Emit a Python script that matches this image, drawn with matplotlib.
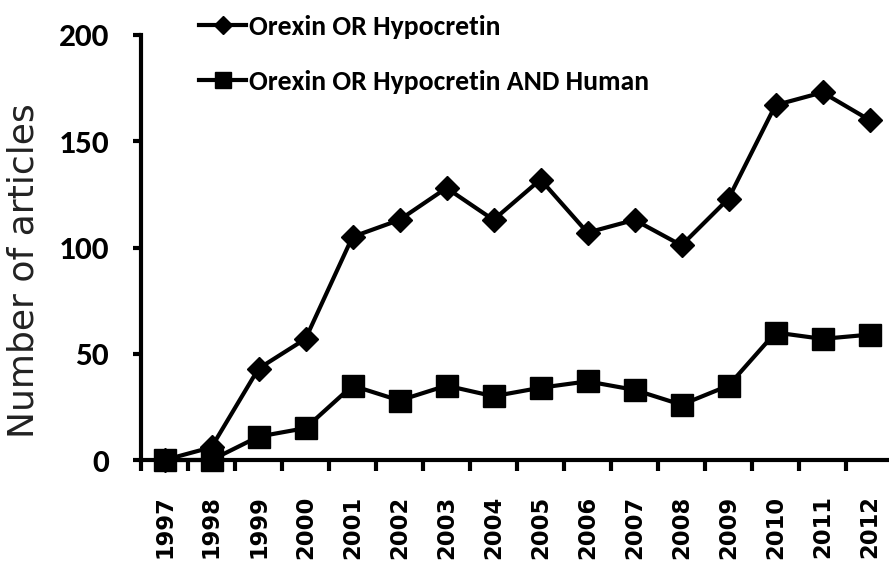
import matplotlib
matplotlib.use("Agg")
import matplotlib.pyplot as plt
from matplotlib import font_manager
from matplotlib.ticker import FixedLocator

years = ["1997", "1998", "1999", "2000", "2001", "2002", "2003", "2004",
         "2005", "2006", "2007", "2008", "2009", "2010", "2011", "2012"]
orexin = [0, 6, 43, 57, 105, 113, 128, 113, 132, 107, 113, 101, 123, 167, 173, 160]
orexin_human = [0, 0, 11, 15, 35, 28, 35, 30, 34, 37, 33, 26, 35, 60, 57, 59]
labels = ["Orexin OR Hypocretin", "Orexin OR Hypocretin AND Human"]
yticks = [0, 50, 100, 150, 200]


def pick(names):
    for n in names:
        try:
            font_manager.findfont(font_manager.FontProperties(family=n), fallback_to_default=False)
            return n
        except Exception:
            pass
    return "DejaVu Sans"

narrow = pick(["Carlito", "Liberation Sans"])
nscale = 1.0 if narrow == "Carlito" else 0.82

W, H = 889, 561
fig = plt.figure(figsize=(W / 100, H / 100), dpi=100)
left, right, bottom, top = 141, 889, 460, 35
ax = fig.add_axes([left / W, 1 - bottom / H, (right - left) / W, (bottom - top) / H])

x = list(range(len(years)))
ax.plot(x, orexin, color="black", lw=3, marker="D", markersize=12.5, label=labels[0], clip_on=False, zorder=3)
ax.plot(x, orexin_human, color="black", lw=3, marker="s", markersize=15.5, label=labels[1], clip_on=False, zorder=3)

cat_w = 47.0
ax.set_xlim(-0.5, -0.5 + (right - left) / cat_w)
ax.set_ylim(0, 200)

for s in ["top", "right"]:
    ax.spines[s].set_visible(False)
for s in ["left", "bottom"]:
    ax.spines[s].set_linewidth(3)

ax.set_yticks(yticks)
ax.set_yticklabels([str(v) for v in yticks], fontfamily=narrow, fontweight="bold",
                   fontsize=24 * nscale)
ax.tick_params(axis="y", direction="out", length=6, width=3, pad=17)

ax.set_xticks(x)
ax.set_xticklabels(years, rotation=90, fontfamily="DejaVu Sans", fontweight="bold", fontsize=16.3,
                   va="top")
ax.tick_params(axis="x", which="major", length=0, pad=25.5)
ax.xaxis.set_minor_locator(FixedLocator([i - 0.5 for i in range(len(years))]))
ax.tick_params(axis="x", which="minor", direction="out", length=8, width=3)

fig.text(24 / W, 1 - 271 / H, "Number of articles", rotation=90, ha="center", va="center",
         fontsize=26, fontfamily="DejaVu Sans", color="#222222")

leg = ax.legend(loc="upper left", bbox_to_anchor=(199 / W, 1 - 15 / H), bbox_transform=fig.transFigure,
                frameon=False, borderpad=0, borderaxespad=0, handlelength=1.7, handletextpad=0.1,
                labelspacing=1.1, markerscale=0.75,
                prop=font_manager.FontProperties(family=narrow, weight="bold", size=20 * nscale))

fig.savefig("out.png", dpi=100)
